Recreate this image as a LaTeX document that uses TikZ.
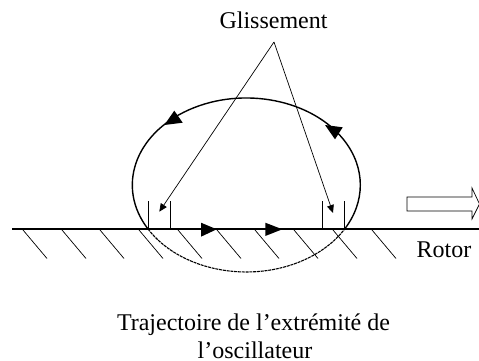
\documentclass[tikz,border=0pt]{standalone}
\usepackage{fontspec}
\setmainfont{Liberation Serif}
\usetikzlibrary{arrows.meta}
\tikzset{
  x=1pt,y=1pt,
  hatch/.style={line width=0.7pt},
  rail/.style={line width=2pt},
  orbit/.style={line width=1.4pt},
  lowerorbit/.style={line width=1.1pt,dash pattern=on 3pt off 0.8pt},
  tick/.style={line width=0.7pt},
  pointer/.style={line width=0.7pt,-{Triangle[length=8pt,width=7pt]}},
  head/.style={fill=black,draw=none},
  label/.style={inner sep=0pt,anchor=base,font=\fontsize{24pt}{28pt}\selectfont}
}
\begin{document}
\begin{tikzpicture}
\useasboundingbox (0,0) rectangle (479,360);
% rail
\coordinate (railL) at (12,131);
\coordinate (railR) at (479,131);
\draw[rail] (railL) -- (railR);
% hatching
\foreach \x in {23,62,100,139,178,217,255,294,333,372}
  \draw[hatch] (\x,130) -- ++(24,-28.5);
% trajectory
\draw[orbit] (148,131) arc[start angle=210.4,end angle=-30.4,x radius=114,y radius=87];
\draw[lowerorbit] (148,131) arc[start angle=210.4,end angle=329.6,x radius=114,y radius=87];
% ticks
\foreach \x in {148,170,322,344}
  \draw[tick] (\x,131) -- (\x,159);
% labels
\node[label] (gliss) at (273.5,332) {Glissement};
\node[label] (rotor) at (444,103) {Rotor};
\node[label] (traj) at (253.5,30) {Trajectoire de l’extrémité de};
\node[label] (osc) at (255,2) {l’oscillateur};
% pointers
\coordinate (apex) at (274,318);
\coordinate (tipL) at (159.3,148.3);
\coordinate (tipR) at (333,147);
\draw[pointer] (apex) -- (tipL);
\draw[pointer] (apex) -- (tipR);
% arrowheads on paths
\fill[head] (201,137.3) -- (201,123.3) -- (216.7,130.7) -- cycle;
\fill[head] (265.3,137.3) -- (265.3,124) -- (282.3,130.7) -- cycle;
\fill[head] (164.3,235) -- (174.3,249.3) -- (182.7,237.3) -- cycle;
\fill[head] (325,235) -- (342.7,232.7) -- (335,220.7) -- cycle;
% hollow arrow
\draw[line width=0.7pt] (407,163) -- (472,163) -- (472,172) -- (479.5,156) -- (472,141) -- (472,149) -- (407,149) -- cycle;
\end{tikzpicture}
\end{document}
